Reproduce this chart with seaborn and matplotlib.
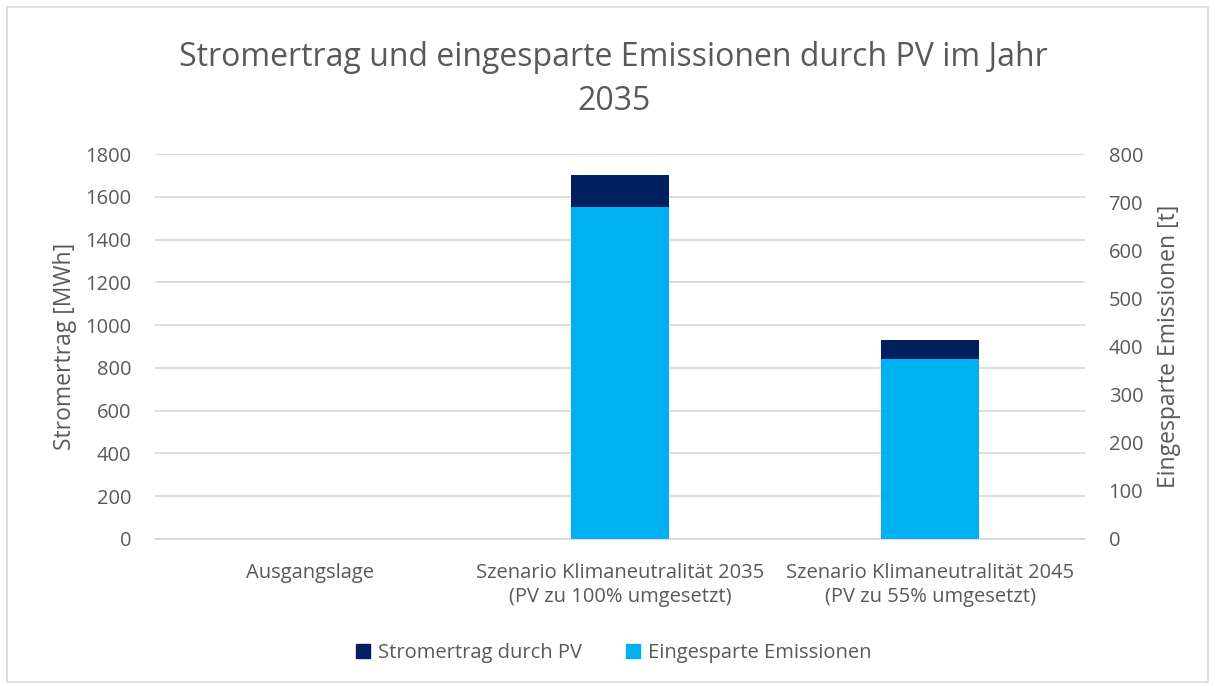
import matplotlib
matplotlib.use("Agg")
import matplotlib.pyplot as plt
import matplotlib.patches as mpatches
import pandas as pd
import seaborn as sns

categories = ["Ausgangslage",
              "Szenario Klimaneutralität 2035\n(PV zu 100% umgesetzt)",
              "Szenario Klimaneutralität 2045\n(PV zu 55% umgesetzt)"]
stromertrag_mwh = [0, 1703, 929]
emissionen_t = [0, 690, 375]
left_ticks = list(range(0, 1801, 200))
right_ticks = list(range(0, 801, 100))

dark = "#002060"
light = "#00B0F0"
grey_txt = "#595959"
grid_col = "#D9D9D9"

sns.set_theme(style="white")
plt.rcParams['font.family'] = ['Open Sans', 'DejaVu Sans']

df = pd.DataFrame({"kat": categories, "strom": stromertrag_mwh, "emis": emissionen_t})

fig = plt.figure(figsize=(12.15, 6.86), dpi=100)
ax = fig.add_axes([0.1276, 0.2143, 0.7654, 0.5612])
ax2 = ax.twinx()

sns.barplot(data=df, x="kat", y="strom", color=dark, width=0.315, ax=ax,
            saturation=1, linewidth=0)
sns.barplot(data=df, x="kat", y="emis", color=light, width=0.315, ax=ax2,
            saturation=1, linewidth=0)

ax.set_ylim(0, 1800)
ax2.set_ylim(0, 800)
ax.set_yticks(left_ticks)
ax2.set_yticks(right_ticks)
ax.yaxis.grid(True, color=grid_col, linewidth=1.3)
ax.set_axisbelow(True)
ax2.grid(False)

for a in (ax, ax2):
    for s in a.spines.values():
        s.set_visible(False)
    a.tick_params(axis="y", length=0, labelsize=14.5, labelcolor=grey_txt, pad=17)
ax.spines["bottom"].set_visible(True)
ax.spines["bottom"].set_color(grid_col)
ax.tick_params(axis="x", length=0, labelsize=14.5, labelcolor=grey_txt, pad=17)
for lbl in ax.get_xticklabels():
    lbl.set_linespacing(1.3)

ax.set_xlabel("")
ax.set_ylabel("Stromertrag [MWh]", fontsize=16.5, color=grey_txt, labelpad=6)
ax2.set_ylabel("Eingesparte Emissionen [t]", fontsize=16.5, color=grey_txt, labelpad=10)

fig.text(0.505, 0.884, "Stromertrag und eingesparte Emissionen durch PV im Jahr\n2035",
         ha="center", va="center", fontsize=23, color=grey_txt, linespacing=1.45)

handles = [mpatches.Patch(color=dark, label="Stromertrag durch PV"),
           mpatches.Patch(color=light, label="Eingesparte Emissionen")]
leg = fig.legend(handles=handles, loc="center", bbox_to_anchor=(0.505, 0.048), ncol=2,
                 frameon=False, fontsize=14.5, handlelength=0.7, handleheight=0.7,
                 columnspacing=2.2, handletextpad=0.4)
for t in leg.get_texts():
    t.set_color(grey_txt)

fig.patches.append(mpatches.Rectangle((0.006, 0.006), 0.988, 0.984, transform=fig.transFigure,
                                      fill=False, edgecolor=grid_col, linewidth=1.2))

fig.savefig("out.png", dpi=100)
